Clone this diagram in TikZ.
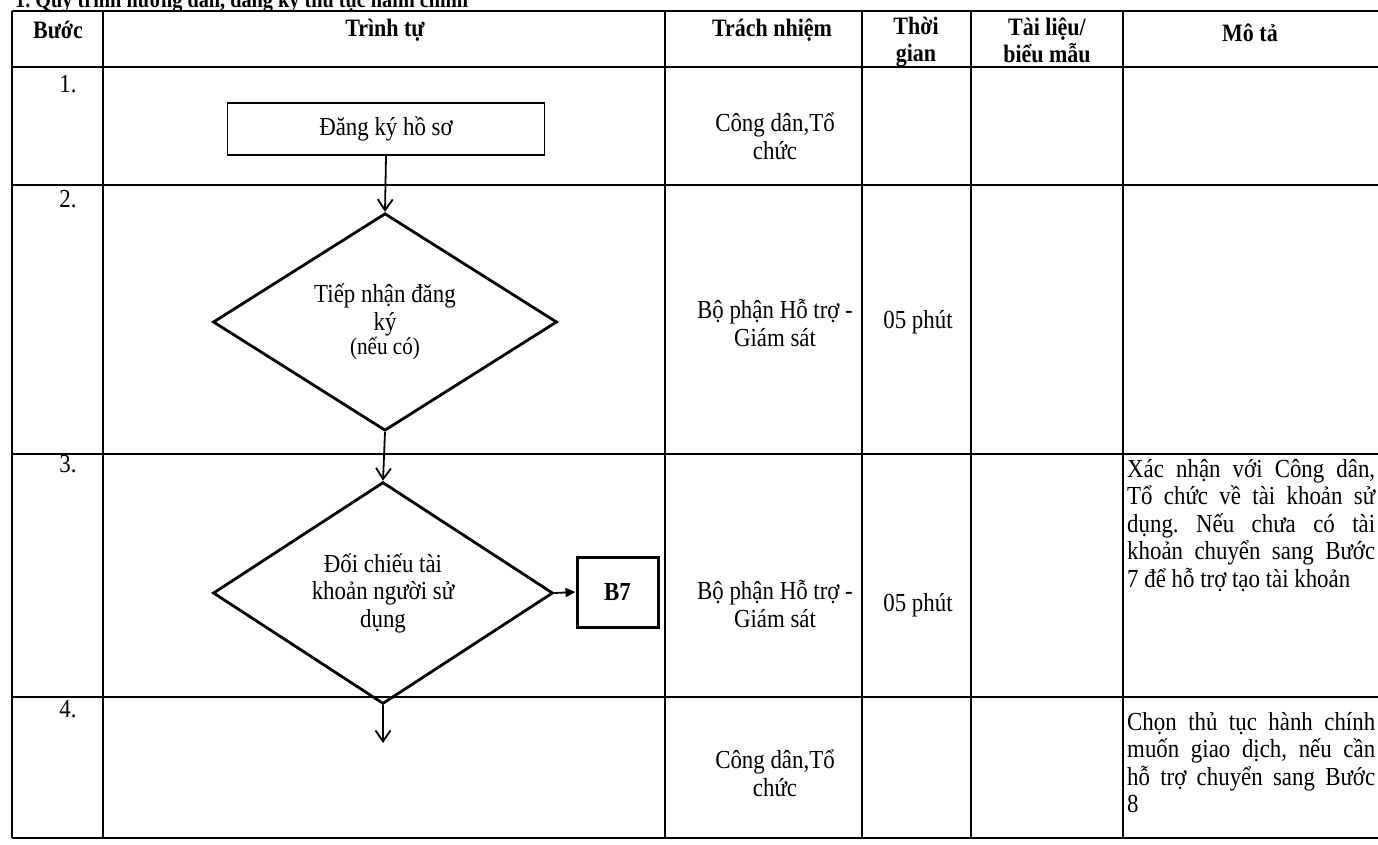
\documentclass[tikz,border=0pt]{standalone}
\usepackage{fontspec}
\setmainfont{Liberation Serif}[FakeStretch=0.88]
\usetikzlibrary{shapes.geometric,arrows.meta}
\begin{document}
\frenchspacing
\begin{tikzpicture}[x=1pt,y=-1pt,
  grid/.style={line width=1.4pt},
  hd/.style={font=\fontsize{25}{27}\selectfont\bfseries, align=center, inner sep=0},
  txt/.style={font=\fontsize{26}{27.5}\selectfont, align=center, inner sep=0},
  desc/.style={font=\fontsize{26}{27.5}\selectfont, align=left, inner sep=0, anchor=north west},
  procbox/.style={draw, line width=1.4pt, minimum width=317pt, minimum height=52pt, inner sep=0, font=\fontsize{26}{27.5}\selectfont},
  decision/.style={diamond, draw, line width=2.8pt, inner sep=0, align=center, font=\fontsize{26}{27.5}\selectfont},
  jumpbox/.style={draw, line width=3pt, minimum width=81pt, minimum height=70pt, inner sep=0, font=\fontsize{26}{27.5}\selectfont\bfseries},
  vflow/.style={line width=1.8pt, -{Straight Barb[length=11pt,width=15pt,line width=1.8pt]}},
  hflow/.style={line width=1.8pt, -{Triangle[length=10pt,width=9pt]}}
]
\useasboundingbox (0,0) rectangle (1378,844);
\fill[white] (0,0) rectangle (1378,844);

% title (cut off at top)
\node[font=\fontsize{23}{28}\selectfont\bfseries, anchor=base west, inner sep=0] (title) at (15,7) {1. Quy trình hướng dẫn, đăng ký thủ tục hành chính};

% table grid
\draw[grid] (12,11) -- (1378,11);
\draw[grid] (12,67) -- (1378,67);
\draw[grid] (12,185) -- (1378,185);
\draw[grid] (12,454) -- (1378,454);
\draw[grid] (12,697) -- (1378,697);
\draw[grid] (12,838) -- (1378,838);
\foreach \x in {12,103,665,862,971,1123} \draw[grid] (\x,11) -- (\x,838);

% header
\node[hd] (hbuoc) at (58,30) {Bước};
\node[hd] (htrinhtu) at (385,30) {Trình tự};
\node[hd] (htrachnhiem) at (772,30) {Trách nhiệm};
\node[hd] (hthoigian) at (916,42) {Thời\\gian};
\node[hd] (htailieu) at (1047,40) {Tài liệu/\\biểu mẫu};
\node[hd] (hmota) at (1250,33) {Mô tả};

% step numbers
\node[txt] (s1) at (68,84) {1.};
\node[txt] (s2) at (68,199) {2.};
\node[txt] (s3) at (68,464) {3.};
\node[txt] (s4) at (68,709) {4.};

% flow
\node[procbox] (dangky) at (386,129) {Đăng ký hồ sơ};
\node[decision, minimum width=344pt, minimum height=209pt] (tiepnhan) at (385,322) {Tiếp nhận đăng\\ký\\[-3pt]{\fontsize{24}{26}\selectfont(nếu có)}};
\node[decision, minimum width=340pt, minimum height=209pt] (doichieu) at (383,593) {Đối chiếu tài\\khoản người sử\\dụng};
\node[jumpbox] (b7) at (617.5,592) {B7};
\coordinate (end4) at (383,743);

\draw[vflow] (dangky.south) -- (tiepnhan.north);
\draw[vflow] (tiepnhan.south) -- (doichieu.north);
\draw[hflow] (doichieu.east) -- (b7.west);
\draw[vflow] (doichieu.south) -- (end4);

% responsibility
\node[txt] (r1) at (775,136) {Công dân,Tổ\\chức};
\node[txt] (r2) at (775,323) {Bộ phận Hỗ trợ -\\Giám sát};
\node[txt] (r3) at (775,604) {Bộ phận Hỗ trợ -\\Giám sát};
\node[txt] (r4) at (775,773) {Công dân,Tổ\\chức};

% time
\node[txt] (t2) at (918,322) {05 phút};
\node[txt] (t3) at (918,605) {05 phút};

% description
\node[desc] (m3) at (1127,459) {\makebox[248pt][s]{Xác nhận với Công dân,}\\
\makebox[248pt][s]{Tổ chức về tài khoản sử}\\
\makebox[248pt][s]{dụng. Nếu chưa có tài}\\
\makebox[248pt][s]{khoản chuyển sang Bước}\\
7 để hỗ trợ tạo tài khoản};
\node[desc] (m4) at (1127,712) {\makebox[248pt][s]{Chọn thủ tục hành chính}\\
\makebox[248pt][s]{muốn giao dịch, nếu cần}\\
\makebox[248pt][s]{hỗ trợ chuyển sang Bước}\\
8};
\end{tikzpicture}
\end{document}
